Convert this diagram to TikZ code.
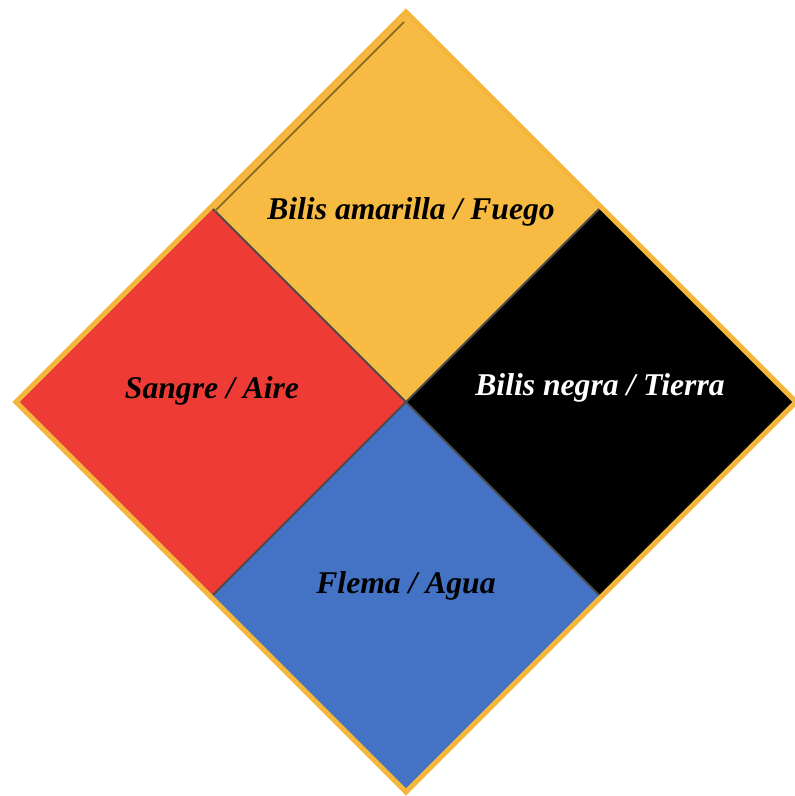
\documentclass[tikz,border=0pt]{standalone}
\usepackage{fontspec}
\setmainfont{Liberation Serif}
\usetikzlibrary{shapes.geometric,positioning}
\definecolor{amarilla}{RGB}{247,186,67}
\definecolor{sangre}{RGB}{238,59,54}
\definecolor{flema}{RGB}{68,114,196}
\definecolor{marco}{RGB}{244,182,60}

\begin{document}
\begin{tikzpicture}[
    quad/.style={diamond, minimum width=3.88cm, minimum height=3.88cm, inner sep=0pt, outer sep=0pt},
    humor/.style={font=\fontsize{9}{11}\selectfont\bfseries\itshape},
    divider/.style={black!70, line width=0.6pt}
]
    \useasboundingbox (0,0) rectangle (7.95,7.96);
    \coordinate (c) at (4.06,3.94);

    % Quadrants
    \node[quad, fill=amarilla, above=0pt of c] (fuego) {};
    \node[quad, fill=sangre, left=0pt of c] (aire) {};
    \node[quad, fill=black, right=0pt of c] (tierra) {};
    \node[quad, fill=flema, below=0pt of c] (agua) {};

    % Dividers
    \draw[divider] (fuego.west) -- (agua.east);
    \draw[divider] (fuego.east) -- (agua.west);

    % Outer frame
    \node[quad, draw=marco, line width=0.05cm, minimum width=7.8cm, minimum height=7.8cm] (frame) at (c) {};
    \draw[black!40!marco, line width=0.6pt] ([xshift=-0.02cm, yshift=-0.1cm]frame.north) -- ([xshift=0.03cm, yshift=-0.03cm]fuego.west);

    % Labels
    \node[humor] at ([xshift=0.05cm, yshift=-0.04cm]fuego.center) (lfuego) {Bilis amarilla / Fuego};
    \node[humor] at ([yshift=0.11cm]aire.center) (laire) {Sangre / Aire};
    \node[humor, text=white] at ([yshift=0.14cm]tierra.center) (ltierra) {Bilis negra / Tierra};
    \node[humor] at ([yshift=0.10cm]agua.center) (lagua) {Flema / Agua};
\end{tikzpicture}
\end{document}
